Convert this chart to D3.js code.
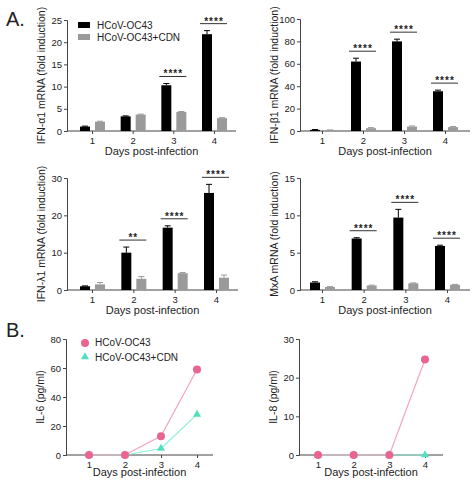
<!DOCTYPE html><html><head><meta charset="utf-8"><script src="https://cdn.jsdelivr.net/npm/d3@7"></script>
<style>body{margin:0;background:#fff}text{font-family:"Liberation Sans",Arial,sans-serif;fill:#222}</style></head><body>
<svg id="c" width="474" height="482"></svg>
<script>
const days=["1","2","3","4"];
const ifna1_virus=[1,3.3,10.3,21.8], ifna1_virus_err=[0.1,0.1,0.4,0.8], ifna1_cdn=[2.1,3.7,4.3,2.9], ifna1_cdn_err=[0.1,0.1,0.1,0.1], ifna1_sig=["","","****","****"];
const ifnb1_virus=[1,62,80,35.5], ifnb1_virus_err=[0.3,3,2,1], ifnb1_cdn=[0.8,2.5,4,3.5], ifnb1_cdn_err=[0.2,0.5,0.5,0.5], ifnb1_sig=["","****","****","****"];
const ifnl1_virus=[1,10,16.7,26], ifnl1_virus_err=[0.1,1.5,0.5,2.3], ifnl1_cdn=[1.5,3,4.5,3.3], ifnl1_cdn_err=[0.5,0.6,0.2,0.7], ifnl1_sig=["","**","****","****"];
const mxa_virus=[1,6.9,9.7,5.9], mxa_virus_err=[0.1,0.1,1.1,0.1], mxa_cdn=[0.4,0.6,0.9,0.7], mxa_cdn_err=[0.05,0.05,0.05,0.05], mxa_sig=["","****","****","****"];
const il6_virus=[0,0,13,59], il6_cdn=[0,0,4.5,28];
const il8_virus=[0,0,0,24.7], il8_cdn=[0,0,0,0];
const svg=d3.select("#c");
const PINK="#e9648e", PINKL="#f5a3bb", TEAL="#4fe0bf", TEALL="#8eeed6";

function frame(o){
  const g=svg.append("g");
  const y=d3.scaleLinear().domain([0,o.max]).range([o.y1,o.y0]);
  const x=d3.scalePoint().domain(days).range([o.t1,o.t4]);
  const ya=g.append("g").attr("transform",`translate(${o.ax},0)`).call(d3.axisLeft(y).tickValues(o.ticks).tickSize(3).tickPadding(2));
  const xa=g.append("g").attr("transform",`translate(0,${o.y1})`).call(d3.axisBottom(x).tickSize(3).tickPadding(3));
  xa.select(".domain").attr("d",`M${o.ax},0H${o.xend}`);
  [ya,xa].forEach(a=>{a.selectAll("path,line").attr("stroke","#444");a.selectAll("text").attr("font-size",9.5).attr("font-family","Liberation Sans,Arial")});
  g.append("text").attr("x",(o.ax+o.xend)/2).attr("y",o.y1+(o.xlo||24)).attr("text-anchor","middle").attr("font-size",11).text("Days post-infection");
  g.append("text").attr("transform",`translate(${o.ax-22},${(o.y0+o.y1)/2}) rotate(-90)`).attr("text-anchor","middle").attr("font-size",10.5).text(o.ylab);
  return {g,x,y};
}
function bars(o){
  const {g,x,y}=frame(o);
  const bw=10;
  const series=[[o.v,o.ve,"#000",-12],[o.c,o.ce,"#9a9a9a",3]];
  series.forEach(([v,e,col,off])=>{
    days.forEach((d,i)=>{
      const cx=x(d)+off;
      g.append("rect").attr("x",cx).attr("width",bw).attr("y",y(v[i])).attr("height",o.y1-y(v[i])).attr("fill",col);
      g.append("line").attr("x1",cx+bw/2).attr("x2",cx+bw/2).attr("y1",y(v[i])).attr("y2",y(v[i]+e[i])).attr("stroke",col);
      g.append("line").attr("x1",cx+2).attr("x2",cx+bw-2).attr("y1",y(v[i]+e[i])).attr("y2",y(v[i]+e[i])).attr("stroke",col);
    });
  });
  days.forEach((d,i)=>{
    if(!o.sig[i])return;
    const ly=y(Math.max(o.v[i]+o.ve[i],o.c[i]+o.ce[i]))-7;
    g.append("line").attr("x1",x(d)-14).attr("x2",x(d)+13).attr("y1",ly).attr("y2",ly).attr("stroke","#333");
    g.append("text").attr("x",x(d)).attr("y",ly+1).attr("text-anchor","middle").attr("font-size",10).attr("font-weight","bold").attr("letter-spacing","1").text(o.sig[i]);
  });
}
function lines(o){
  const {g,x,y}=frame(o);
  const ln=d3.line().x((d,i)=>x(days[i])).y(d=>y(d));
  g.append("path").attr("d",ln(o.c)).attr("fill","none").attr("stroke",TEALL).attr("stroke-width",1.2);
  g.append("path").attr("d",ln(o.v)).attr("fill","none").attr("stroke",PINKL).attr("stroke-width",1.2);
  const tri=d3.symbol().type(d3.symbolTriangle).size(28);
  o.c.forEach((v,i)=>g.append("path").attr("d",tri()).attr("transform",`translate(${x(days[i])},${y(v)})`).attr("fill",TEAL));
  o.v.forEach((v,i)=>g.append("circle").attr("cx",x(days[i])).attr("cy",y(v)).attr("r",4).attr("fill",PINK));
}
bars({ax:67,y0:20,y1:131,max:25,ticks:[0,5,10,15,20,25],t1:92,t4:214,xend:236,ylab:"IFN-α1 mRNA (fold induction)",v:ifna1_virus,ve:ifna1_virus_err,c:ifna1_cdn,ce:ifna1_cdn_err,sig:ifna1_sig});
bars({ax:300,y0:19,y1:131,max:100,ticks:[0,20,40,60,80,100],t1:322,t4:445,xend:470,ylab:"IFN-β1 mRNA (fold induction)",v:ifnb1_virus,ve:ifnb1_virus_err,c:ifnb1_cdn,ce:ifnb1_cdn_err,sig:ifnb1_sig});
bars({ax:67,y0:178,y1:290,max:30,ticks:[0,10,20,30],t1:92,t4:216,xend:238,ylab:"IFN-λ1 mRNA (fold induction)",v:ifnl1_virus,ve:ifnl1_virus_err,c:ifnl1_cdn,ce:ifnl1_cdn_err,sig:ifnl1_sig});
bars({ax:300,y0:178,y1:290,max:15,ticks:[0,5,10,15],t1:322,t4:447,xend:470,ylab:"MxA mRNA (fold induction)",v:mxa_virus,ve:mxa_virus_err,c:mxa_cdn,ce:mxa_cdn_err,sig:mxa_sig});
lines({ax:66,y0:339,y1:455,max:80,ticks:[0,20,40,60,80],t1:89,t4:197,xend:213,xlo:21,ylab:"IL-6 (pg/ml)",v:il6_virus,c:il6_cdn});
lines({ax:299,y0:339,y1:455,max:30,ticks:[0,10,20,30],t1:318,t4:425,xend:443,xlo:21,ylab:"IL-8 (pg/ml)",v:il8_virus,c:il8_cdn});
// legends
svg.append("rect").attr("x",78).attr("y",22).attr("width",12).attr("height",6).attr("fill","#000");
svg.append("rect").attr("x",78).attr("y",34).attr("width",12).attr("height",6).attr("fill","#9a9a9a");
svg.append("text").attr("x",97).attr("y",29).attr("font-size",10).text("HCoV-OC43");
svg.append("text").attr("x",97).attr("y",41).attr("font-size",10).text("HCoV-OC43+CDN");
svg.append("circle").attr("cx",85).attr("cy",343).attr("r",4).attr("fill",PINK);
svg.append("path").attr("d",d3.symbol().type(d3.symbolTriangle).size(28)()).attr("transform","translate(85,357)").attr("fill",TEAL);
svg.append("text").attr("x",95).attr("y",346).attr("font-size",10).text("HCoV-OC43");
svg.append("text").attr("x",95).attr("y",361).attr("font-size",10).text("HCoV-OC43+CDN");
svg.append("text").attr("x",6).attr("y",26).attr("font-family","Liberation Serif,serif").attr("font-size",20).text("A.");
svg.append("text").attr("x",6).attr("y",337).attr("font-family","Liberation Serif,serif").attr("font-size",20).text("B.");
</script></body></html>
